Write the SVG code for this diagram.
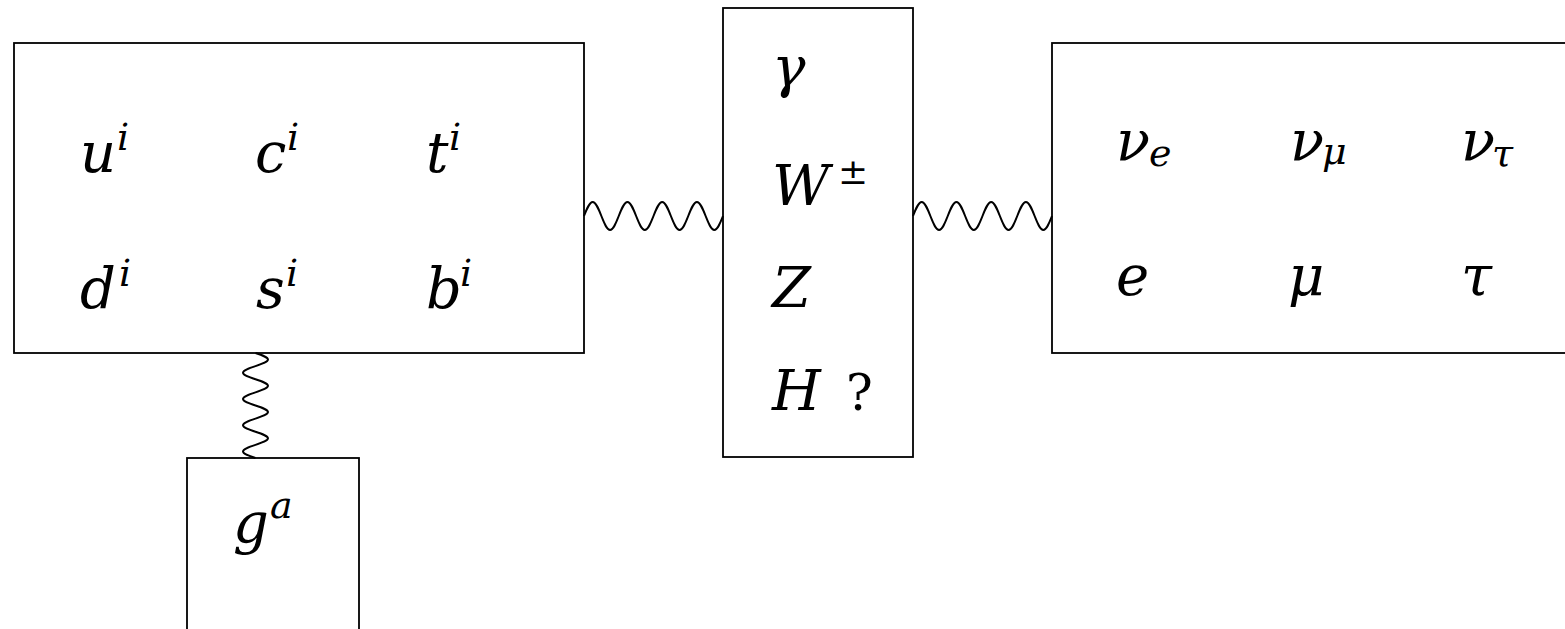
<svg xmlns="http://www.w3.org/2000/svg" width="1565" height="629" viewBox="0 0 1565 629">
<style>
.box{fill:none;stroke:#000;stroke-width:1.8}
.wave{fill:none;stroke:#000;stroke-width:2}
.m{font-family:"DejaVu Serif","Liberation Serif",serif;font-style:italic;font-size:56px;fill:#000}
.s{font-family:"DejaVu Serif","Liberation Serif",serif;font-style:italic;font-size:38px;fill:#000}
.r{font-family:"DejaVu Serif","Liberation Serif",serif;font-style:normal;fill:#000}
</style>
<rect width="1565" height="629" fill="#fff"/>
<g id="connectors">
<path class="wave" d="M584,216 c2.833,-7.172 5.543,-14 8.6875,-14 s5.854,6.828 8.6875,14 s5.543,14 8.6875,14 s5.854,-6.828 8.6875,-14 s5.543,-14 8.6875,-14 s5.854,6.828 8.6875,14 s5.543,14 8.6875,14 s5.854,-6.828 8.6875,-14 s5.543,-14 8.6875,-14 s5.854,6.828 8.6875,14 s5.543,14 8.6875,14 s5.854,-6.828 8.6875,-14 s5.543,-14 8.6875,-14 s5.854,6.828 8.6875,14 s5.543,14 8.6875,14 s5.854,-6.828 8.6875,-14"/>
<path class="wave" d="M913,216 c2.833,-7.172 5.543,-14 8.6875,-14 s5.854,6.828 8.6875,14 s5.543,14 8.6875,14 s5.854,-6.828 8.6875,-14 s5.543,-14 8.6875,-14 s5.854,6.828 8.6875,14 s5.543,14 8.6875,14 s5.854,-6.828 8.6875,-14 s5.543,-14 8.6875,-14 s5.854,6.828 8.6875,14 s5.543,14 8.6875,14 s5.854,-6.828 8.6875,-14 s5.543,-14 8.6875,-14 s5.854,6.828 8.6875,14 s5.543,14 8.6875,14 s5.854,-6.828 8.6875,-14"/>
<path class="wave" d="M255.5,353 c6.404,2.14 12.5,4.187 12.5,6.5625 s-6.096,4.422 -12.5,6.5625 s-12.5,4.187 -12.5,6.5625 s6.096,4.422 12.5,6.5625 s12.5,4.187 12.5,6.5625 s-6.096,4.422 -12.5,6.5625 s-12.5,4.187 -12.5,6.5625 s6.096,4.422 12.5,6.5625 s12.5,4.187 12.5,6.5625 s-6.096,4.422 -12.5,6.5625 s-12.5,4.187 -12.5,6.5625 s6.096,4.422 12.5,6.5625 s12.5,4.187 12.5,6.5625 s-6.096,4.422 -12.5,6.5625 s-12.5,4.187 -12.5,6.5625 s6.096,4.422 12.5,6.5625"/>
</g>
<g id="quarks">
<rect class="box" x="14" y="43" width="570" height="310"/>
<text class="m" x="80" y="172">u</text><text class="s" x="117" y="150">i</text>
<text class="m" x="255" y="172">c</text><text class="s" x="287" y="150">i</text>
<text class="m" x="426" y="172">t</text><text class="s" x="449" y="150">i</text>
<text class="m" x="80" y="308">d</text><text class="s" x="119" y="286">i</text>
<text class="m" x="256" y="308">s</text><text class="s" x="286" y="286">i</text>
<text class="m" x="426" y="308">b</text><text class="s" x="460" y="286">i</text>
</g>
<g id="bosons">
<rect class="box" x="723" y="8" width="190" height="449"/>
<text class="m" x="772" y="86">γ</text>
<text class="m" x="772" y="205">W</text><text class="r" x="838" y="184" font-size="36">±</text>
<text class="m" x="772" y="307">Z</text>
<text class="m" x="772" y="410">H</text><text class="r" x="846" y="410" font-size="50">?</text>
</g>
<g id="leptons">
<rect class="box" x="1052" y="43" width="600" height="310"/>
<text class="m" x="1116" y="160">ν</text><text class="s" x="1149" y="166">e</text>
<text class="m" x="1290" y="160">ν</text><text class="s" x="1322" y="164">μ</text>
<text class="m" x="1461" y="160">ν</text><text class="s" x="1492" y="166">τ</text>
<text class="m" x="1116" y="295">e</text>
<text class="m" x="1288" y="295">μ</text>
<text class="m" x="1461" y="295">τ</text>
</g>
<g id="gluon">
<rect class="box" x="187" y="458" width="172" height="300"/>
<text class="m" x="233" y="543">g</text><text class="s" x="270" y="518" font-size="36">a</text>
</g>
</svg>
